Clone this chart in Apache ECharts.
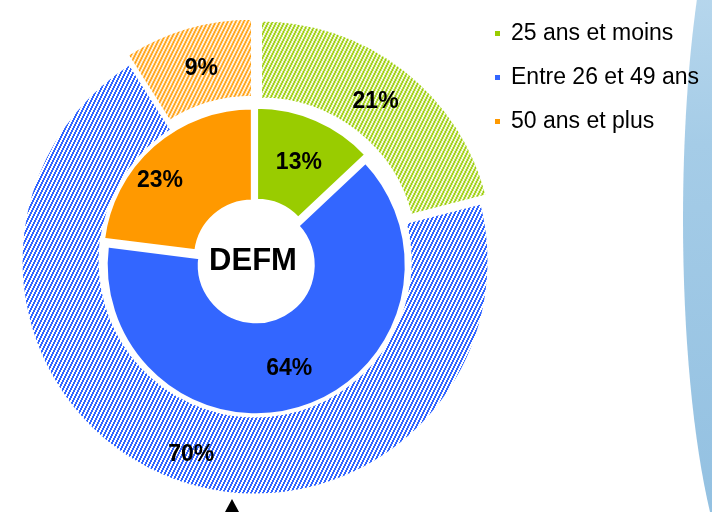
<!DOCTYPE html>
<html>
<head>
<meta charset="utf-8">
<script src="https://cdn.jsdelivr.net/npm/echarts@6/dist/echarts.min.js"></script>
<style>html,body{margin:0;padding:0;background:#fff}#c{width:712px;height:512px}</style>
</head>
<body>
<div id="c"></div>
<script>
var categories = ['25 ans et moins', 'Entre 26 et 49 ans', '50 ans et plus'];
var innerValues = [13, 64, 23];
var outerValues = [21, 70, 9];
var centerLabel = 'DEFM';
var baseColors = ['#99cc00', '#3366ff', '#ff9900'];

function hatch(color) {
  var c = document.createElement('canvas');
  c.width = 4; c.height = 8;
  var ctx = c.getContext('2d');
  ctx.fillStyle = '#ffffff';
  ctx.fillRect(0, 0, 4, 8);
  ctx.fillStyle = color;
  for (var x = 0; x < 4; x++) {
    for (var y = 0; y < 8; y++) {
      if (((2 * x + y) % 8) < 4) ctx.fillRect(x, y, 1, 1);
    }
  }
  return { image: c, repeat: 'repeat' };
}

var FONT = 'Arial, "Liberation Sans", sans-serif';
var chart = echarts.init(document.getElementById('c'), null, { renderer: 'canvas' });

var innerData = categories.map(function (n, i) {
  return { name: n, value: innerValues[i], selected: true, itemStyle: { color: baseColors[i] } };
});
var outerData = categories.map(function (n, i) {
  return { name: n, value: outerValues[i], selected: i !== 1, itemStyle: { color: hatch(baseColors[i]) } };
});

var labelStyle = {
  show: true, position: 'inside', formatter: '{c}%',
  color: '#000', fontFamily: FONT, fontWeight: 'bold', fontSize: 23
};

chart.setOption({
  animation: false,
  title: {
    text: centerLabel, left: 248, top: 256,
    textAlign: 'center', textVerticalAlign: 'middle',
    textStyle: { fontFamily: FONT, fontWeight: 'bold', fontSize: 31, color: '#000' }
  },
  legend: {
    orient: 'vertical', left: 488, top: 17,
    icon: 'rect', itemWidth: 7, itemHeight: 7, itemGap: 21,
    data: categories,
    textStyle: { fontFamily: FONT, fontSize: 23, color: '#000', padding: [0, 0, 0, 5] }
  },
  graphic: [
    {
      type: 'ellipse', z: -10, silent: true,
      shape: { cx: 758, cy: 220, rx: 75, ry: 380 },
      style: {
        fill: new echarts.graphic.LinearGradient(0, 0, 0, 1, [
          { offset: 0, color: '#c8e1f2' },
          { offset: 0.4, color: '#a5cce7' },
          { offset: 1, color: '#8fbee0' }
        ])
      }
    },
    {
      type: 'polygon', silent: true,
      shape: { points: [[225, 512], [239, 512], [232, 499]] },
      style: { fill: '#000' }
    }
  ],
  series: [
    {
      type: 'pie', center: [255, 261], radius: [57, 150],
      startAngle: 90, clockwise: true, selectedMode: 'multiple', selectedOffset: 4,
      itemStyle: { borderColor: '#fff', borderWidth: 3 },
      label: labelStyle, labelLine: { show: false },
      labelLayout: function (p) { return p.dataIndex === 2 ? { dx: -22, dy: 3 } : { dy: 3 }; },
      emphasis: { disabled: true },
      data: innerData
    },
    {
      type: 'pie', center: [255, 261], radius: [155, 234],
      startAngle: 90, clockwise: true, selectedMode: 'multiple', selectedOffset: 9,
      itemStyle: { borderColor: '#fff', borderWidth: 3 },
      label: labelStyle, labelLine: { show: false },
      labelLayout: function (p) {
        if (p.dataIndex === 1) return { dx: 9, dy: 10 };
        if (p.dataIndex === 2) return { dx: 4, dy: 6 };
        return { dx: -6, dy: 4 };
      },
      emphasis: { disabled: true },
      data: outerData
    }
  ]
});
</script>
</body>
</html>
